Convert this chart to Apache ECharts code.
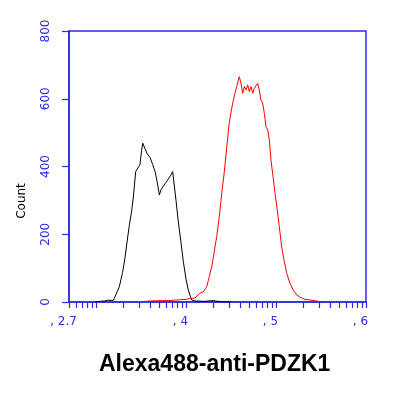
<!DOCTYPE html>
<html><head><meta charset="utf-8">
<script src="https://cdn.jsdelivr.net/npm/echarts@6/dist/echarts.min.js"></script>
<style>html,body{margin:0;padding:0;background:#fff}#c{width:409px;height:395px}</style>
</head><body><div id="c"></div>
<script>
// x values are log10 of fluorescence intensity
const blackX = [2.99,3.05,3.10,3.126,3.193,3.222,3.259,3.296,3.322,3.348,3.370,3.396,3.415,3.441,3.459,3.489,3.507,3.519,3.544,3.570,3.600,3.630,3.656,3.681,3.704,3.722,3.748,3.778,3.804,3.830,3.852,3.859,3.889,3.915,3.941,3.970,4.000,4.026,4.052,4.063,4.10,4.2,4.3,4.35,4.4,4.5];
const blackY = [1,2,3,5,5,22,45,88,130,183,226,268,310,385,390,406,448,469,453,437,427,406,385,353,316,331,342,353,363,374,385,369,300,236,183,120,67,35,14,6,3,2,4,2,1,0];
const redX = [3.45,3.5,3.6,3.7,3.8,3.9,4.0,4.05,4.1,4.119,4.156,4.192,4.230,4.259,4.286,4.311,4.341,4.370,4.397,4.422,4.433,4.452,4.481,4.508,4.526,4.544,4.563,4.581,4.592,4.611,4.630,4.648,4.667,4.686,4.703,4.722,4.741,4.759,4.778,4.797,4.814,4.833,4.852,4.870,4.889,4.908,4.926,4.944,4.963,4.989,5.014,5.037,5.063,5.089,5.119,5.156,5.192,5.230,5.267,5.322,5.378,5.45,5.5];
const redY = [2,1,3,4,4,6,8,10,12,15,26,30,45,75,104,144,193,252,321,375,405,455,530,572,596,616,636,655,665,646,616,636,626,641,621,636,616,631,636,646,626,596,587,557,517,508,478,419,380,321,272,222,163,124,85,55,35,21,14,8,6,3,0];
const xTickIntensities = [600,700,800,900,1000,2000,3000,4000,5000,6000,7000,8000,9000,10000,20000,30000,40000,50000,60000,70000,80000,90000,100000,200000,300000,400000,500000,600000,700000,800000,900000,1000000];
const xLabelValues = [2.7,4,5,6];
const xLabelTexts = ['2.7','4','5','6'];
const yTicks = [0,200,400,600,800];
const titleText = 'Alexa488-anti-PDZK1';
const yName = 'Count';

const blue = '#2b2be0';
const pair = (xs, ys) => xs.map((x, i) => [x, ys[i]]);
const tickVals = [2.7].concat(xTickIntensities.map(v => Math.log10(v)));

const chart = echarts.init(document.getElementById('c'), null, {renderer: 'canvas'});
chart.setOption({
  animation: false,
  backgroundColor: '#fff',
  title: {
    text: titleText, left: 94, top: 348,
    textStyle: {fontFamily: 'Liberation Sans', fontWeight: 'bold', fontSize: 23, color: '#000'}
  },
  graphic: [{
    type: 'text', x: 22, y: 201, rotation: Math.PI / 2,
    style: {text: yName, fontFamily: 'DejaVu Sans', fontSize: 12, fill: '#000', textAlign: 'center', textVerticalAlign: 'middle'}
  }],
  grid: {left: 69, right: 43, top: 31, bottom: 93, show: true, borderColor: blue, borderWidth: 1.5, backgroundColor: 'transparent'},
  xAxis: {
    type: 'value', min: 2.7, max: 6,
    splitLine: {show: false},
    axisLine: {show: true, lineStyle: {color: blue, width: 1.5}},
    axisTick: {show: true, inside: false, length: 6, customValues: tickVals, lineStyle: {color: blue, width: 1.2}},
    axisLabel: {
      customValues: xLabelValues, color: blue, fontFamily: 'DejaVu Sans', fontSize: 12, margin: 14,
      formatter: v => {
        const i = xLabelValues.findIndex(t => Math.abs(t - v) < 1e-6);
        return i >= 0 ? '{a|, ' + xLabelTexts[i] + '}' : '';
      },
      rich: {a: {color: blue, fontFamily: 'DejaVu Sans', fontSize: 12, padding: [0, 11, 0, 0]}}
    }
  },
  yAxis: {
    type: 'value', min: 0, max: 800, interval: 200,
    splitLine: {show: false},
    axisLine: {show: true, lineStyle: {color: blue, width: 1.5}},
    axisTick: {show: true, inside: false, length: 7, lineStyle: {color: blue, width: 1.2}},
    axisLabel: {color: blue, fontFamily: 'DejaVu Sans', fontSize: 12, rotate: 90, margin: 17,
      formatter: v => yTicks.includes(v) ? String(v) : ''}
  },
  series: [
    {type: 'line', data: pair(redX, redY), showSymbol: false, symbol: 'none', lineStyle: {color: '#ff0000', width: 1}, z: 3},
    {type: 'line', data: pair(blackX, blackY), showSymbol: false, symbol: 'none', lineStyle: {color: '#000', width: 1}, z: 4}
  ]
});
</script></body></html>
